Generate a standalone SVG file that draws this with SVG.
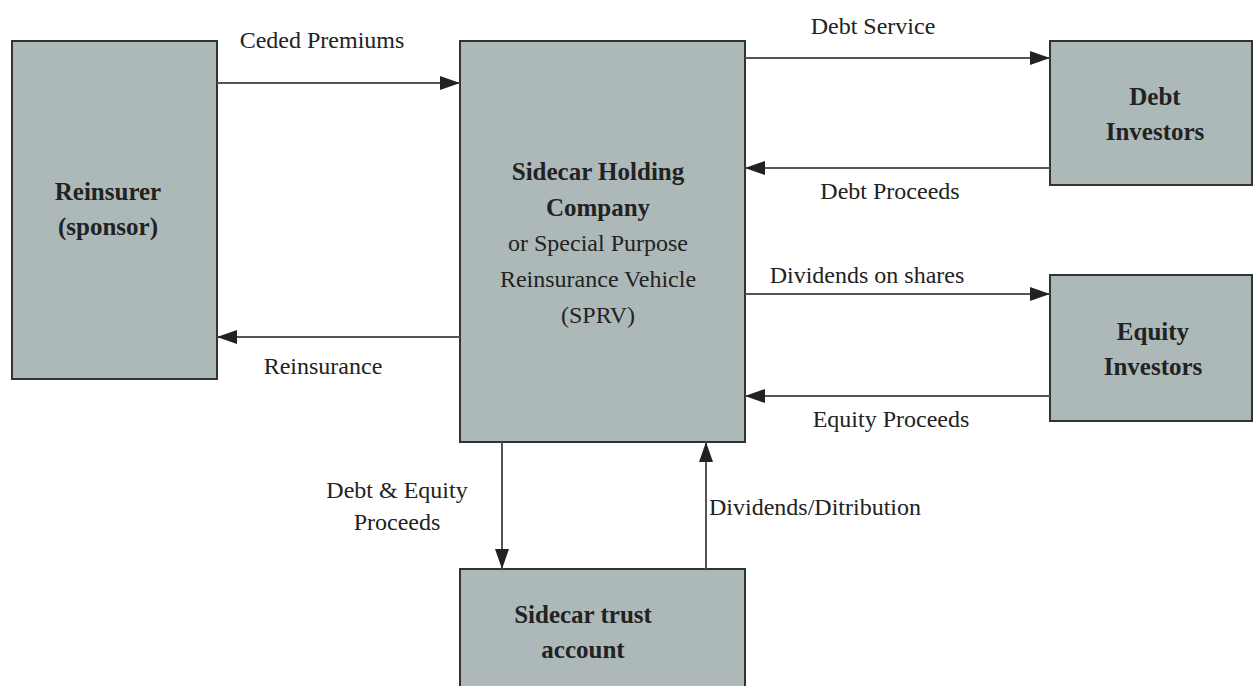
<svg xmlns="http://www.w3.org/2000/svg" width="1253" height="686" viewBox="0 0 1253 686">
  <style>
    .box { fill: #adb9b8; stroke: #333; stroke-width: 2; }
    .t { font-family: "Liberation Serif", "Times New Roman", serif; font-size: 24px; fill: #222; text-anchor: middle; }
    .b { font-weight: bold; font-size: 25px; }
    .lbl { font-family: "Liberation Serif", "Times New Roman", serif; font-size: 24px; fill: #222; text-anchor: middle; }
    .conn { stroke: #555; stroke-width: 2; fill: none; marker-end: url(#arrow); }
  </style>
  <defs>
    <marker id="arrow" viewBox="0 0 20 14" refX="20" refY="7" markerWidth="20" markerHeight="14" markerUnits="userSpaceOnUse" orient="auto">
      <path d="M0,0 L20,7 L0,14 Z" fill="#222"/>
    </marker>
  </defs>

  <rect width="1253" height="686" fill="#fff"/>

  <g id="reinsurer">
    <rect class="box" x="12" y="41" width="205" height="338"/>
    <text class="t b" x="108" y="200">Reinsurer</text>
    <text class="t b" x="108" y="235">(sponsor)</text>
  </g>

  <g id="sprv">
    <rect class="box" x="460" y="41" width="285" height="401"/>
    <text class="t b" x="598" y="180">Sidecar Holding</text>
    <text class="t b" x="598" y="216">Company</text>
    <text class="t" x="598" y="251">or Special Purpose</text>
    <text class="t" x="598" y="287">Reinsurance Vehicle</text>
    <text class="t" x="598" y="323">(SPRV)</text>
  </g>

  <g id="debt-investors">
    <rect class="box" x="1050" y="41" width="202" height="144"/>
    <text class="t b" x="1155" y="105">Debt</text>
    <text class="t b" x="1155" y="140">Investors</text>
  </g>

  <g id="equity-investors">
    <rect class="box" x="1050" y="275" width="202" height="146"/>
    <text class="t b" x="1153" y="340">Equity</text>
    <text class="t b" x="1153" y="375">Investors</text>
  </g>

  <g id="trust-account">
    <rect class="box" x="460" y="569" width="285" height="130"/>
    <text class="t b" x="583" y="623">Sidecar trust</text>
    <text class="t b" x="583" y="658">account</text>
  </g>

  <g id="connectors">
    <line class="conn" x1="217" y1="83" x2="460" y2="83"/>
    <line class="conn" x1="460" y1="337" x2="217" y2="337"/>
    <line class="conn" x1="745" y1="58" x2="1050" y2="58"/>
    <line class="conn" x1="1050" y1="168" x2="745" y2="168"/>
    <line class="conn" x1="745" y1="294" x2="1050" y2="294"/>
    <line class="conn" x1="1050" y1="396" x2="745" y2="396"/>
    <line class="conn" x1="502" y1="442" x2="502" y2="569"/>
    <line class="conn" x1="706" y1="569" x2="706" y2="442"/>
  </g>

  <g id="labels">
    <text class="lbl" x="322" y="48">Ceded Premiums</text>
    <text class="lbl" x="323" y="374">Reinsurance</text>
    <text class="lbl" x="873" y="34">Debt Service</text>
    <text class="lbl" x="890" y="199">Debt Proceeds</text>
    <text class="lbl" x="867" y="283">Dividends on shares</text>
    <text class="lbl" x="891" y="427">Equity Proceeds</text>
    <text class="lbl" x="397" y="498">Debt &amp; Equity</text>
    <text class="lbl" x="397" y="530">Proceeds</text>
    <text class="lbl" x="815" y="515">Dividends/Ditribution</text>
  </g>
</svg>
